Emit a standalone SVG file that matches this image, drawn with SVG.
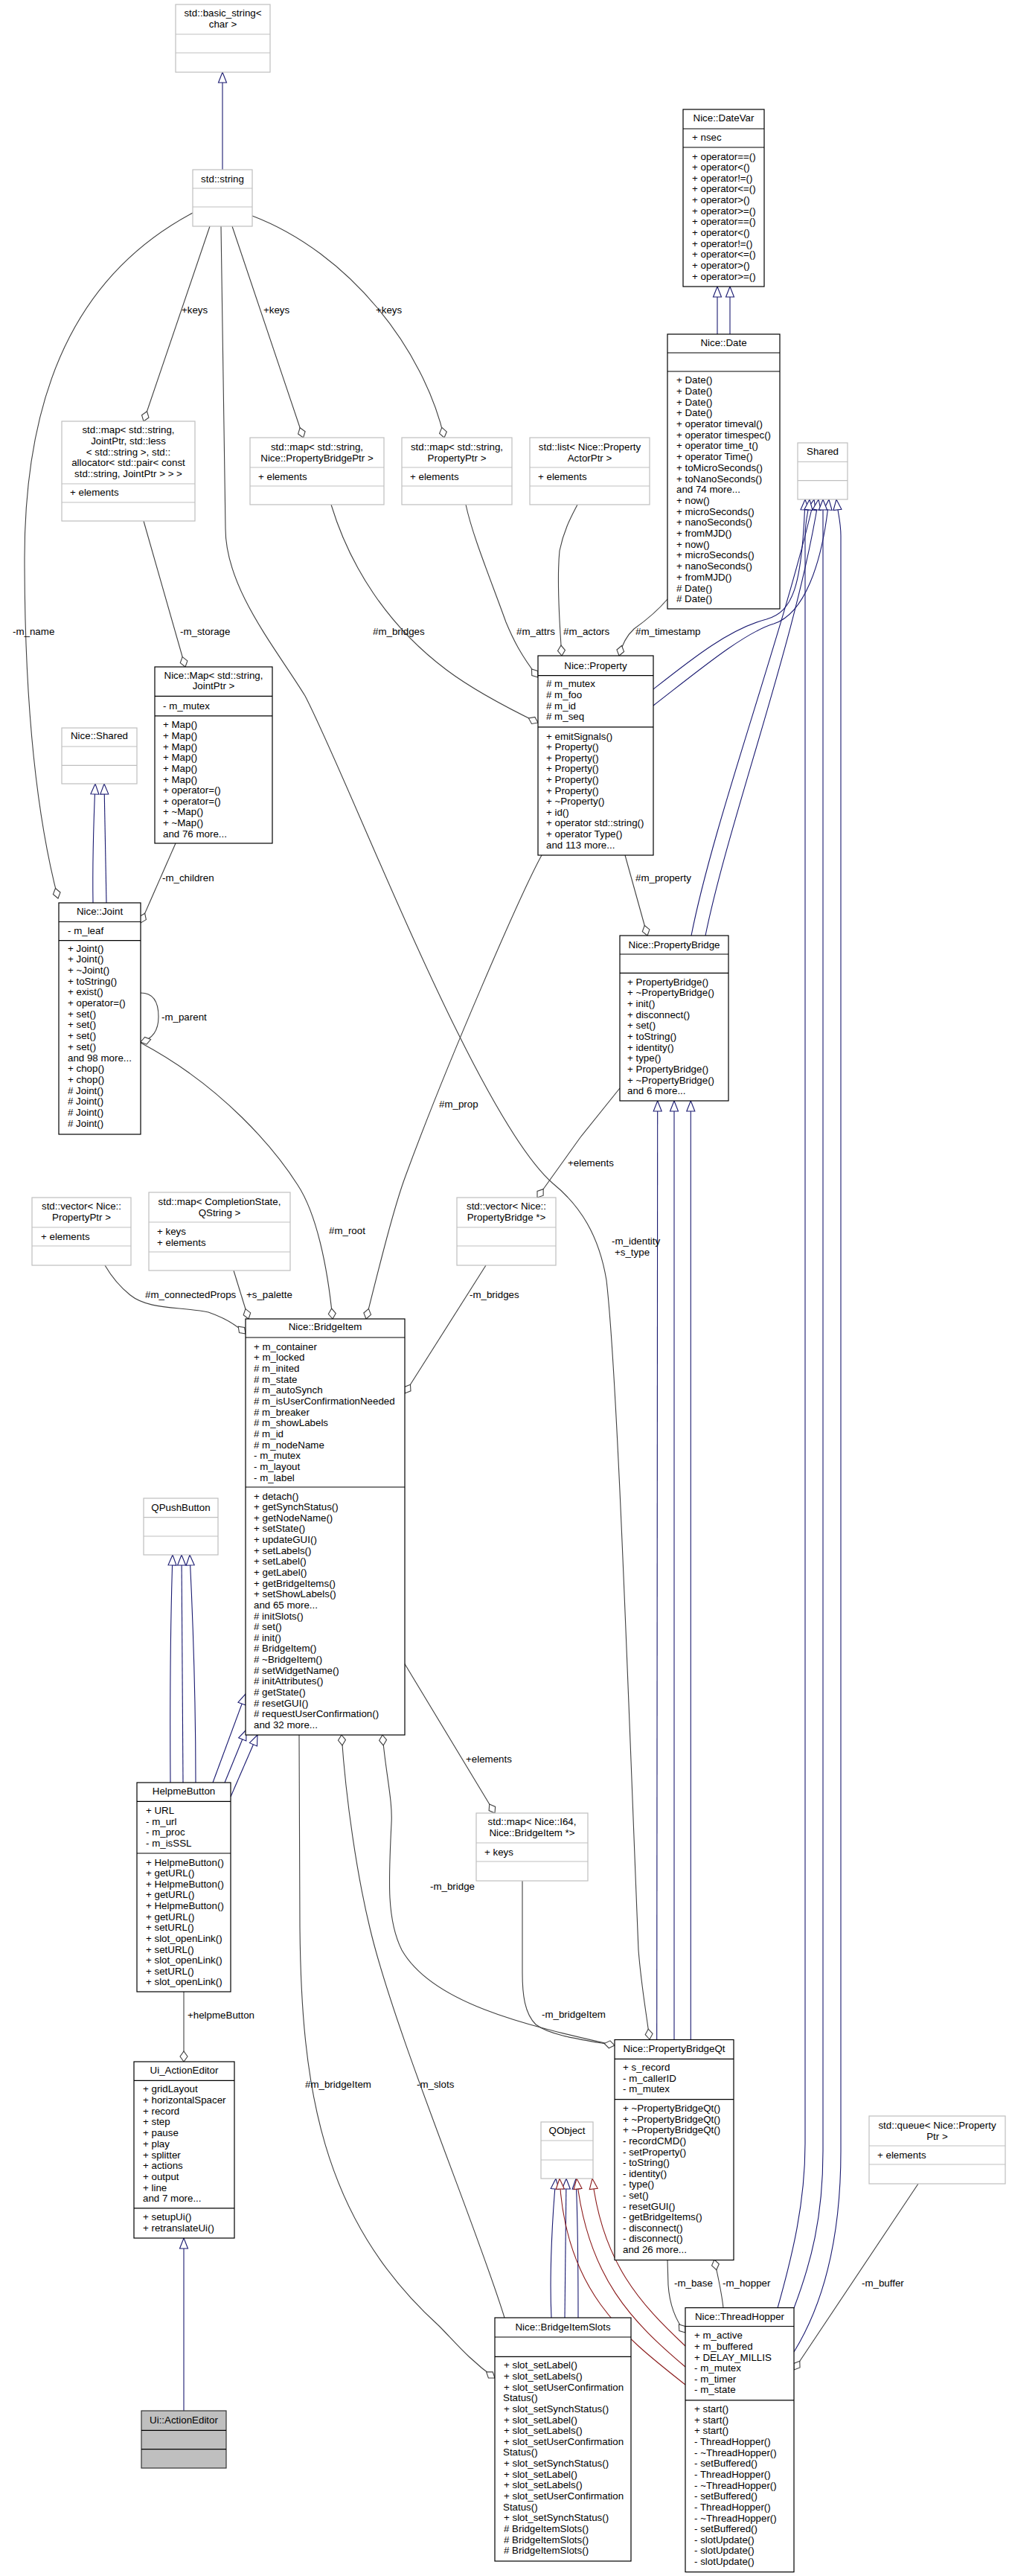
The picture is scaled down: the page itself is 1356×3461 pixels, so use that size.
<svg xmlns="http://www.w3.org/2000/svg" width="1356" height="3461" viewBox="0 0 1356 3461">
<style>
text{font-family:"Liberation Sans",Arial,sans-serif;font-size:13.33px;fill:#000}
.m{text-anchor:middle}
.doc{fill:#fff;stroke:#000;stroke-width:1.2}
.ext{fill:#fff;stroke:#bfbfbf;stroke-width:1.2}
.dl{stroke:#000;stroke-width:1.2}
.el{stroke:#bfbfbf;stroke-width:1.2}
.e{fill:none;stroke:#404040;stroke-width:1.1;marker-start:url(#dia)}
.ib{fill:none;stroke:#191970;stroke-width:1.1;marker-end:url(#tb)}
.ir{fill:none;stroke:#8b1a1a;stroke-width:1.1;marker-end:url(#tr)}
</style>
<defs>
<marker id="dia" viewBox="-1 -6 16 12" refX="0" refY="0" markerWidth="16" markerHeight="12" orient="auto" markerUnits="userSpaceOnUse"><path d="M0,0 L7,-5 L14,0 L7,5 Z" fill="#fff" stroke="#404040" stroke-width="1.1"/></marker>
<marker id="tb" viewBox="-1 -7 16 14" refX="14" refY="0" markerWidth="16" markerHeight="14" orient="auto" markerUnits="userSpaceOnUse"><path d="M0,-5.5 L14,0 L0,5.5 Z" fill="#fff" stroke="#191970" stroke-width="1.1"/></marker>
<marker id="tr" viewBox="-1 -7 16 14" refX="14" refY="0" markerWidth="16" markerHeight="14" orient="auto" markerUnits="userSpaceOnUse"><path d="M0,-5.5 L14,0 L0,5.5 Z" fill="#fff" stroke="#8b1a1a" stroke-width="1.1"/></marker>
</defs>
<rect width="1356" height="3461" fill="#fff"/>

<g id="connectors">
<!-- inheritance -->
<path class="ib" d="M299,228 L299,97"/>
<path class="ib" d="M964,449 L964,385"/>
<path class="ib" d="M981,449 L981,385"/>
<path class="ib" d="M125,1213 C124,1150 126,1100 128,1053"/>
<path class="ib" d="M143,1213 C142,1150 141,1100 140,1053"/>
<path class="ib" d="M878,926 C930,885 980,845 1030,832 C1065,822 1078,790 1082,671"/>
<path class="ib" d="M878,948 C940,900 1000,850 1040,838 C1080,825 1105,760 1114,671"/>
<path class="ib" d="M929,1257 C960,1100 1050,860 1094,671"/>
<path class="ib" d="M948,1257 C980,1100 1070,860 1100,671"/>
<path class="ib" d="M1045,3101 C1065,3030 1082,2960 1082,2880 L1082,720 C1082,700 1086,690 1088,671"/>
<path class="ib" d="M1067,3101 C1090,3040 1106,2980 1106,2890 L1106,671"/>
<path class="ib" d="M1067,3160 C1110,3090 1130,3000 1130,2890 L1130,720 C1130,700 1126,690 1124,671"/>
<path class="ib" d="M882.7,2740.5 L883.7,1479"/>
<path class="ib" d="M906,2740.5 L906,1479"/>
<path class="ib" d="M928.3,2740.5 L928.3,1479"/>
<path class="ib" d="M229,2395 C228,2250 230,2150 232,2089"/>
<path class="ib" d="M246,2395 L244,2089"/>
<path class="ib" d="M263,2395 C263,2250 258,2150 255,2089"/>
<path class="ib" d="M286,2395 L330,2276"/>
<path class="ib" d="M302,2395 L331,2324"/>
<path class="ib" d="M310,2414 L346,2331"/>
<path class="ib" d="M247,3239 L247,3007"/>
<path class="ib" d="M741,3114 C738,3050 743,2970 747,2927"/>
<path class="ib" d="M759,3114 L761,2927"/>
<path class="ib" d="M777,3114 C777,3050 776,2970 774,2927"/>
<path class="ir" d="M921,3152 C860,3095 810,3040 796,2927"/>
<path class="ir" d="M921,3180 C850,3120 790,3060 775,2927"/>
<path class="ir" d="M921,3204 C840,3140 760,3080 752,2927"/>

<!-- collaboration -->
<path class="e" d="M193,566 L282,304"/>
<text x="244" y="420.5">+keys</text>
<path class="e" d="M407.6,588 L312,304"/>
<text x="354" y="420.5">+keys</text>
<path class="e" d="M597,588 C570,470 470,340 339,290"/>
<text x="505" y="420.5">+keys</text>
<path class="e" d="M78,1207 C50,1100 33,950 33,750 C33,500 120,360 259,286"/>
<text x="17" y="852.5">-m_name</text>
<path class="e" d="M249,896 L193,700"/>
<text x="242" y="852.6">-m_storage</text>
<path class="e" d="M189,1240 L236,1133"/>
<text x="218" y="1183.8">-m_children</text>
<path class="e" d="M189,1400 C205,1396 213,1385 213,1366 C213,1345 205,1334 189,1334"/>
<text x="217" y="1370.5">-m_parent</text>
<path class="e" d="M447,1772 C440,1700 425,1630 400,1592 C370,1545 300,1460 189,1401"/>
<text x="442" y="1657.8">#m_root</text>
<path class="e" d="M723,971 C690,955 640,930 600,900 C520,840 470,760 445,678"/>
<text x="501" y="853.4">#m_bridges</text>
<path class="e" d="M723,910 C700,880 690,860 680,836 C660,780 635,720 626,678"/>
<text x="694" y="853.4">#m_attrs</text>
<path class="e" d="M755,881 C752,840 748,780 752,740 C758,710 770,690 776,678"/>
<text x="757" y="853.4">#m_actors</text>
<path class="e" d="M832,881 Q838,858 852,845 Q880,825 897,805"/>
<text x="854" y="853.4">#m_timestamp</text>
<path class="e" d="M870,1257 L840,1149"/>
<text x="854" y="1184">#m_property</text>
<path class="e" d="M492,1772 C510,1700 530,1620 545,1580 C600,1430 700,1200 728,1149"/>
<text x="590" y="1488">#m_prop</text>
<path class="e" d="M722,1609 L780,1528 L833,1462"/>
<text x="763" y="1566.5">+elements</text>
<path class="e" d="M330,1792 C318,1780 300,1770 280,1763 C240,1755 200,1760 175,1740 C160,1728 148,1712 141,1700"/>
<text x="195" y="1743.5">#m_connectedProps</text>
<path class="e" d="M334,1772 L314,1707"/>
<text x="331" y="1743.5">+s_palette</text>
<path class="e" d="M544,1872 L653,1700"/>
<text x="631" y="1743.5">-m_bridges</text>
<path class="e" d="M873,2740 C868,2700 862,2670 858,2620 C845,2300 830,1850 815,1720 C805,1660 780,1620 743,1590 C640,1500 470,1050 410,935 C370,870 303,790 303,710 L297,304"/>
<text x="822" y="1672">-m_identity</text>
<text x="826" y="1687">+s_type</text>
<path class="e" d="M459,2331 C465,2420 480,2520 497,2590 C530,2730 640,2990 678,3114"/>
<text x="560" y="2805">-m_slots</text>
<path class="e" d="M665,3195 C630,3170 610,3145 590,3125 C430,2980 405,2800 403,2590 L402,2331"/>
<text x="410" y="2805">#m_bridgeItem</text>
<path class="e" d="M514,2331 C518,2380 528,2420 526,2450 C522,2530 520,2580 540,2620 C580,2690 700,2720 826,2748"/>
<text x="578" y="2539">-m_bridge</text>
<path class="e" d="M826,2748 C780,2740 740,2735 720,2720 C705,2705 702,2680 702,2650 L702,2527"/>
<text x="728" y="2711.4">-m_bridgeItem</text>
<path class="e" d="M665,2436 L543,2234"/>
<text x="626" y="2367.5">+elements</text>
<path class="e" d="M247,2770 L247,2676"/>
<text x="252" y="2712.4">+helpmeButton</text>
<path class="e" d="M921,3134 C910,3120 900,3100 898,3070 L897,3036"/>
<text x="906" y="3072">-m_base</text>
<path class="e" d="M960,3036 C965,3060 970,3080 972,3101"/>
<text x="971" y="3072">-m_hopper</text>
<path class="e" d="M1067,3184 L1234,2934"/>
<text x="1158" y="3072">-m_buffer</text>
</g>

<g id="basic_string">
<rect class="ext" x="236" y="6" width="127" height="91"/>
<line class="el" x1="236" y1="46" x2="363" y2="46"/><line class="el" x1="236" y1="71" x2="363" y2="71"/>
<text class="m" x="299.5" y="22">std::basic_string&lt;</text><text class="m" x="299.5" y="37">char &gt;</text>
</g>
<g id="std_string">
<rect class="ext" x="259" y="228" width="80" height="76"/>
<line class="el" x1="259" y1="253" x2="339" y2="253"/><line class="el" x1="259" y1="278" x2="339" y2="278"/>
<text class="m" x="299" y="245">std::string</text>
</g>
<g id="map_jointptr">
<rect class="ext" x="83" y="566" width="179" height="134"/>
<line class="el" x1="83" y1="650" x2="262" y2="650"/><line class="el" x1="83" y1="675" x2="262" y2="675"/>
<text class="m" x="172.5" y="582">std::map&lt; std::string,</text>
<text class="m" x="172.5" y="597"> JointPtr, std::less</text>
<text class="m" x="172.5" y="611.5">&lt; std::string &gt;, std::</text>
<text class="m" x="172.5" y="626">allocator&lt; std::pair&lt; const</text>
<text class="m" x="172.5" y="641"> std::string, JointPtr &gt; &gt; &gt;</text>
<text x="94" y="666">+ elements</text>
</g>
<g id="map_pbptr">
<rect class="ext" x="336" y="588" width="180" height="90"/>
<line class="el" x1="336" y1="628" x2="516" y2="628"/><line class="el" x1="336" y1="653" x2="516" y2="653"/>
<text class="m" x="426" y="604.5">std::map&lt; std::string,</text>
<text class="m" x="426" y="619.5"> Nice::PropertyBridgePtr &gt;</text>
<text x="347" y="644.5">+ elements</text>
</g>
<g id="map_propptr">
<rect class="ext" x="540" y="588" width="148" height="90"/>
<line class="el" x1="540" y1="628" x2="688" y2="628"/><line class="el" x1="540" y1="653" x2="688" y2="653"/>
<text class="m" x="614" y="604.5">std::map&lt; std::string,</text>
<text class="m" x="614" y="619.5">PropertyPtr &gt;</text>
<text x="551" y="644.5">+ elements</text>
</g>
<g id="list_actorptr">
<rect class="ext" x="712" y="588" width="161" height="90"/>
<line class="el" x1="712" y1="628" x2="873" y2="628"/><line class="el" x1="712" y1="653" x2="873" y2="653"/>
<text class="m" x="792.5" y="604.5">std::list&lt; Nice::Property</text>
<text class="m" x="792.5" y="619.5">ActorPtr &gt;</text>
<text x="723" y="644.5">+ elements</text>
</g>
<g id="datevar">
<rect class="doc" x="918" y="147" width="109" height="238"/>
<line class="dl" x1="918" y1="173" x2="1027" y2="173"/><line class="dl" x1="918" y1="198" x2="1027" y2="198"/>
<text class="m" x="972.5" y="163">Nice::DateVar</text>
<text x="930" y="189">+ nsec</text>
<text x="930" y="214.5"><tspan x="930">+ operator==()</tspan><tspan x="930" dy="14.65">+ operator&lt;()</tspan><tspan x="930" dy="14.65">+ operator!=()</tspan><tspan x="930" dy="14.65">+ operator&lt;=()</tspan><tspan x="930" dy="14.65">+ operator&gt;()</tspan><tspan x="930" dy="14.65">+ operator&gt;=()</tspan><tspan x="930" dy="14.65">+ operator==()</tspan><tspan x="930" dy="14.65">+ operator&lt;()</tspan><tspan x="930" dy="14.65">+ operator!=()</tspan><tspan x="930" dy="14.65">+ operator&lt;=()</tspan><tspan x="930" dy="14.65">+ operator&gt;()</tspan><tspan x="930" dy="14.65">+ operator&gt;=()</tspan></text>
</g>
<g id="date">
<rect class="doc" x="897" y="449" width="151" height="369"/>
<line class="dl" x1="897" y1="474" x2="1048" y2="474"/><line class="dl" x1="897" y1="499" x2="1048" y2="499"/>
<text class="m" x="972.5" y="465">Nice::Date</text>
<text x="909" y="515.2"><tspan x="909">+ Date()</tspan><tspan x="909" dy="14.7">+ Date()</tspan><tspan x="909" dy="14.7">+ Date()</tspan><tspan x="909" dy="14.7">+ Date()</tspan><tspan x="909" dy="14.7">+ operator timeval()</tspan><tspan x="909" dy="14.7">+ operator timespec()</tspan><tspan x="909" dy="14.7">+ operator time_t()</tspan><tspan x="909" dy="14.7">+ operator Time()</tspan><tspan x="909" dy="14.7">+ toMicroSeconds()</tspan><tspan x="909" dy="14.7">+ toNanoSeconds()</tspan><tspan x="909" dy="14.7">and 74 more...</tspan><tspan x="909" dy="14.7">+ now()</tspan><tspan x="909" dy="14.7">+ microSeconds()</tspan><tspan x="909" dy="14.7">+ nanoSeconds()</tspan><tspan x="909" dy="14.7">+ fromMJD()</tspan><tspan x="909" dy="14.7">+ now()</tspan><tspan x="909" dy="14.7">+ microSeconds()</tspan><tspan x="909" dy="14.7">+ nanoSeconds()</tspan><tspan x="909" dy="14.7">+ fromMJD()</tspan><tspan x="909" dy="14.7"># Date()</tspan><tspan x="909" dy="14.7"># Date()</tspan></text>
</g>
<g id="shared">
<rect class="ext" x="1072" y="595" width="67" height="76"/>
<line class="el" x1="1072" y1="620.5" x2="1139" y2="620.5"/><line class="el" x1="1072" y1="645.7" x2="1139" y2="645.7"/>
<text class="m" x="1105.5" y="611">Shared</text>
</g>
<g id="nice_map">
<rect class="doc" x="208" y="896" width="158" height="237"/>
<line class="dl" x1="208" y1="935.4" x2="366" y2="935.4"/><line class="dl" x1="208" y1="961.8" x2="366" y2="961.8"/>
<text class="m" x="287" y="912.3">Nice::Map&lt; std::string,</text>
<text class="m" x="287" y="926">JointPtr &gt;</text>
<text x="219" y="953">- m_mutex</text>
<text x="219" y="978.3"><tspan x="219">+ Map()</tspan><tspan x="219" dy="14.64">+ Map()</tspan><tspan x="219" dy="14.64">+ Map()</tspan><tspan x="219" dy="14.64">+ Map()</tspan><tspan x="219" dy="14.64">+ Map()</tspan><tspan x="219" dy="14.64">+ Map()</tspan><tspan x="219" dy="14.64">+ operator=()</tspan><tspan x="219" dy="14.64">+ operator=()</tspan><tspan x="219" dy="14.64">+ ~Map()</tspan><tspan x="219" dy="14.64">+ ~Map()</tspan><tspan x="219" dy="14.64">and 76 more...</tspan></text>
</g>
<g id="nice_shared">
<rect class="ext" x="83" y="978" width="101" height="75"/>
<line class="el" x1="83" y1="1003" x2="184" y2="1003"/><line class="el" x1="83" y1="1028.4" x2="184" y2="1028.4"/>
<text class="m" x="133.5" y="993">Nice::Shared</text>
</g>
<g id="joint">
<rect class="doc" x="79" y="1213" width="110" height="311"/>
<line class="dl" x1="79" y1="1238.5" x2="189" y2="1238.5"/><line class="dl" x1="79" y1="1263.7" x2="189" y2="1263.7"/>
<text class="m" x="134" y="1228.5">Nice::Joint</text>
<text x="91" y="1254.5">- m_leaf</text>
<text x="91" y="1278.5"><tspan x="91">+ Joint()</tspan><tspan x="91" dy="14.7">+ Joint()</tspan><tspan x="91" dy="14.7">+ ~Joint()</tspan><tspan x="91" dy="14.7">+ toString()</tspan><tspan x="91" dy="14.7">+ exist()</tspan><tspan x="91" dy="14.7">+ operator=()</tspan><tspan x="91" dy="14.7">+ set()</tspan><tspan x="91" dy="14.7">+ set()</tspan><tspan x="91" dy="14.7">+ set()</tspan><tspan x="91" dy="14.7">+ set()</tspan><tspan x="91" dy="14.7">and 98 more...</tspan><tspan x="91" dy="14.7">+ chop()</tspan><tspan x="91" dy="14.7">+ chop()</tspan><tspan x="91" dy="14.7"># Joint()</tspan><tspan x="91" dy="14.7"># Joint()</tspan><tspan x="91" dy="14.7"># Joint()</tspan><tspan x="91" dy="14.7"># Joint()</tspan></text>
</g>
<g id="property">
<rect class="doc" x="723" y="881" width="155" height="268"/>
<line class="dl" x1="723" y1="907.6" x2="878" y2="907.6"/><line class="dl" x1="723" y1="976.9" x2="878" y2="976.9"/>
<text class="m" x="800.5" y="899">Nice::Property</text>
<text x="734" y="923.2"><tspan x="734"># m_mutex</tspan><tspan x="734" dy="14.7"># m_foo</tspan><tspan x="734" dy="14.7"># m_id</tspan><tspan x="734" dy="14.7"># m_seq</tspan></text>
<text x="734" y="993.5"><tspan x="734">+ emitSignals()</tspan><tspan x="734" dy="14.6">+ Property()</tspan><tspan x="734" dy="14.6">+ Property()</tspan><tspan x="734" dy="14.6">+ Property()</tspan><tspan x="734" dy="14.6">+ Property()</tspan><tspan x="734" dy="14.6">+ Property()</tspan><tspan x="734" dy="14.6">+ ~Property()</tspan><tspan x="734" dy="14.6">+ id()</tspan><tspan x="734" dy="14.6">+ operator std::string()</tspan><tspan x="734" dy="14.6">+ operator Type()</tspan><tspan x="734" dy="14.6">and 113 more...</tspan></text>
</g>
<g id="propertybridge">
<rect class="doc" x="833" y="1257" width="146" height="222"/>
<line class="dl" x1="833" y1="1282" x2="979" y2="1282"/><line class="dl" x1="833" y1="1307.3" x2="979" y2="1307.3"/>
<text class="m" x="906" y="1273.5">Nice::PropertyBridge</text>
<text x="843" y="1323.8"><tspan x="843">+ PropertyBridge()</tspan><tspan x="843" dy="14.64">+ ~PropertyBridge()</tspan><tspan x="843" dy="14.64">+ init()</tspan><tspan x="843" dy="14.64">+ disconnect()</tspan><tspan x="843" dy="14.64">+ set()</tspan><tspan x="843" dy="14.64">+ toString()</tspan><tspan x="843" dy="14.64">+ identity()</tspan><tspan x="843" dy="14.64">+ type()</tspan><tspan x="843" dy="14.64">+ PropertyBridge()</tspan><tspan x="843" dy="14.64">+ ~PropertyBridge()</tspan><tspan x="843" dy="14.64">and 6 more...</tspan></text>
</g>
<g id="vector_propptr">
<rect class="ext" x="43" y="1609" width="133" height="91"/>
<line class="el" x1="43" y1="1649" x2="176" y2="1649"/><line class="el" x1="43" y1="1674" x2="176" y2="1674"/>
<text class="m" x="109.5" y="1625">std::vector&lt; Nice::</text>
<text class="m" x="109.5" y="1640">PropertyPtr &gt;</text>
<text x="55" y="1665.5">+ elements</text>
</g>
<g id="map_completionstate">
<rect class="ext" x="200" y="1602" width="190" height="105"/>
<line class="el" x1="200" y1="1642" x2="390" y2="1642"/><line class="el" x1="200" y1="1682" x2="390" y2="1682"/>
<text class="m" x="295" y="1618.5">std::map&lt; CompletionState,</text>
<text class="m" x="295" y="1633.5">QString &gt;</text>
<text x="211" y="1658.5">+ keys</text>
<text x="211" y="1673.5">+ elements</text>
</g>
<g id="vector_pb">
<rect class="ext" x="614" y="1609" width="133" height="91"/>
<line class="el" x1="614" y1="1649" x2="747" y2="1649"/><line class="el" x1="614" y1="1674" x2="747" y2="1674"/>
<text class="m" x="680.5" y="1625">std::vector&lt; Nice::</text>
<text class="m" x="680.5" y="1640">PropertyBridge *&gt;</text>
</g>
<g id="bridgeitem">
<rect class="doc" x="330" y="1772" width="214" height="559"/>
<line class="dl" x1="330" y1="1797" x2="544" y2="1797"/><line class="dl" x1="330" y1="1998" x2="544" y2="1998"/>
<text class="m" x="437" y="1787">Nice::BridgeItem</text>
<text x="341" y="1813.5"><tspan x="341">+ m_container</tspan><tspan x="341" dy="14.67">+ m_locked</tspan><tspan x="341" dy="14.67"># m_inited</tspan><tspan x="341" dy="14.67"># m_state</tspan><tspan x="341" dy="14.67"># m_autoSynch</tspan><tspan x="341" dy="14.67"># m_isUserConfirmationNeeded</tspan><tspan x="341" dy="14.67"># m_breaker</tspan><tspan x="341" dy="14.67"># m_showLabels</tspan><tspan x="341" dy="14.67"># m_id</tspan><tspan x="341" dy="14.67"># m_nodeName</tspan><tspan x="341" dy="14.67">- m_mutex</tspan><tspan x="341" dy="14.67">- m_layout</tspan><tspan x="341" dy="14.67">- m_label</tspan></text>
<text x="341" y="2014.5"><tspan x="341">+ detach()</tspan><tspan x="341" dy="14.64">+ getSynchStatus()</tspan><tspan x="341" dy="14.64">+ getNodeName()</tspan><tspan x="341" dy="14.64">+ setState()</tspan><tspan x="341" dy="14.64">+ updateGUI()</tspan><tspan x="341" dy="14.64">+ setLabels()</tspan><tspan x="341" dy="14.64">+ setLabel()</tspan><tspan x="341" dy="14.64">+ getLabel()</tspan><tspan x="341" dy="14.64">+ getBridgeItems()</tspan><tspan x="341" dy="14.64">+ setShowLabels()</tspan><tspan x="341" dy="14.64">and 65 more...</tspan><tspan x="341" dy="14.64"># initSlots()</tspan><tspan x="341" dy="14.64"># set()</tspan><tspan x="341" dy="14.64"># init()</tspan><tspan x="341" dy="14.64"># BridgeItem()</tspan><tspan x="341" dy="14.64"># ~BridgeItem()</tspan><tspan x="341" dy="14.64"># setWidgetName()</tspan><tspan x="341" dy="14.64"># initAttributes()</tspan><tspan x="341" dy="14.64"># getState()</tspan><tspan x="341" dy="14.64"># resetGUI()</tspan><tspan x="341" dy="14.64"># requestUserConfirmation()</tspan><tspan x="341" dy="14.64">and 32 more...</tspan></text>
</g>
<g id="qpushbutton">
<rect class="ext" x="193" y="2013" width="100" height="76"/>
<line class="el" x1="193" y1="2038.7" x2="293" y2="2038.7"/><line class="el" x1="193" y1="2064" x2="293" y2="2064"/>
<text class="m" x="243" y="2029.5">QPushButton</text>
</g>
<g id="helpmebutton">
<rect class="doc" x="184" y="2395" width="126" height="281"/>
<line class="dl" x1="184" y1="2420.4" x2="310" y2="2420.4"/><line class="dl" x1="184" y1="2490" x2="310" y2="2490"/>
<text class="m" x="247" y="2411.3">HelpmeButton</text>
<text x="196" y="2437.4"><tspan x="196">+ URL</tspan><tspan x="196" dy="14.5">- m_url</tspan><tspan x="196" dy="14.5">- m_proc</tspan><tspan x="196" dy="14.5">- m_isSSL</tspan></text>
<text x="196" y="2506.6"><tspan x="196">+ HelpmeButton()</tspan><tspan x="196" dy="14.62">+ getURL()</tspan><tspan x="196" dy="14.62">+ HelpmeButton()</tspan><tspan x="196" dy="14.62">+ getURL()</tspan><tspan x="196" dy="14.62">+ HelpmeButton()</tspan><tspan x="196" dy="14.62">+ getURL()</tspan><tspan x="196" dy="14.62">+ setURL()</tspan><tspan x="196" dy="14.62">+ slot_openLink()</tspan><tspan x="196" dy="14.62">+ setURL()</tspan><tspan x="196" dy="14.62">+ slot_openLink()</tspan><tspan x="196" dy="14.62">+ setURL()</tspan><tspan x="196" dy="14.62">+ slot_openLink()</tspan></text>
</g>
<g id="map_i64">
<rect class="ext" x="640" y="2436" width="150" height="91"/>
<line class="el" x1="640" y1="2476" x2="790" y2="2476"/><line class="el" x1="640" y1="2501" x2="790" y2="2501"/>
<text class="m" x="715" y="2452">std::map&lt; Nice::I64,</text>
<text class="m" x="715" y="2467"> Nice::BridgeItem *&gt;</text>
<text x="651" y="2492.5">+ keys</text>
</g>
<g id="ui_actioneditor">
<rect class="doc" x="180" y="2770" width="135" height="237"/>
<line class="dl" x1="180" y1="2795.4" x2="315" y2="2795.4"/><line class="dl" x1="180" y1="2966.8" x2="315" y2="2966.8"/>
<text class="m" x="247.5" y="2786.3">Ui_ActionEditor</text>
<text x="192" y="2811.3"><tspan x="192">+ gridLayout</tspan><tspan x="192" dy="14.7">+ horizontalSpacer</tspan><tspan x="192" dy="14.7">+ record</tspan><tspan x="192" dy="14.7">+ step</tspan><tspan x="192" dy="14.7">+ pause</tspan><tspan x="192" dy="14.7">+ play</tspan><tspan x="192" dy="14.7">+ splitter</tspan><tspan x="192" dy="14.7">+ actions</tspan><tspan x="192" dy="14.7">+ output</tspan><tspan x="192" dy="14.7">+ line</tspan><tspan x="192" dy="14.7">and 7 more...</tspan></text>
<text x="192" y="2983.4"><tspan x="192">+ setupUi()</tspan><tspan x="192" dy="14.7">+ retranslateUi()</tspan></text>
</g>
<g id="ui_ns_actioneditor">
<rect x="190" y="3239" width="114" height="77" fill="#bfbfbf" stroke="#333" stroke-width="1.2"/>
<line class="dl" x1="190" y1="3265.3" x2="304" y2="3265.3"/><line class="dl" x1="190" y1="3290.7" x2="304" y2="3290.7"/>
<text class="m" x="247" y="3256">Ui::ActionEditor</text>
</g>
<g id="propertybridgeqt">
<rect class="doc" x="826" y="2740.5" width="160" height="296"/>
<line class="dl" x1="826" y1="2766.4" x2="986" y2="2766.4"/><line class="dl" x1="826" y1="2820.7" x2="986" y2="2820.7"/>
<text class="m" x="906" y="2757">Nice::PropertyBridgeQt</text>
<text x="837" y="2782.3"><tspan x="837">+ s_record</tspan><tspan x="837" dy="14.5">- m_callerID</tspan><tspan x="837" dy="14.5">- m_mutex</tspan></text>
<text x="837" y="2837.1"><tspan x="837">+ ~PropertyBridgeQt()</tspan><tspan x="837" dy="14.6">+ ~PropertyBridgeQt()</tspan><tspan x="837" dy="14.6">+ ~PropertyBridgeQt()</tspan><tspan x="837" dy="14.6">- recordCMD()</tspan><tspan x="837" dy="14.6">- setProperty()</tspan><tspan x="837" dy="14.6">- toString()</tspan><tspan x="837" dy="14.6">- identity()</tspan><tspan x="837" dy="14.6">- type()</tspan><tspan x="837" dy="14.6">- set()</tspan><tspan x="837" dy="14.6">- resetGUI()</tspan><tspan x="837" dy="14.6">- getBridgeItems()</tspan><tspan x="837" dy="14.6">- disconnect()</tspan><tspan x="837" dy="14.6">- disconnect()</tspan><tspan x="837" dy="14.6">and 26 more...</tspan></text>
</g>
<g id="qobject">
<rect class="ext" x="727" y="2851" width="70" height="76"/>
<line class="el" x1="727" y1="2876" x2="797" y2="2876"/><line class="el" x1="727" y1="2902" x2="797" y2="2902"/>
<text class="m" x="762" y="2867">QObject</text>
</g>
<g id="bridgeitemslots">
<rect class="doc" x="665" y="3114" width="183" height="327"/>
<line class="dl" x1="665" y1="3140" x2="848" y2="3140"/><line class="dl" x1="665" y1="3166.3" x2="848" y2="3166.3"/>
<text class="m" x="756.5" y="3130.5">Nice::BridgeItemSlots</text>
<text x="677" y="3182.2"><tspan x="677">+ slot_setLabel()</tspan><tspan x="677" dy="14.66">+ slot_setLabels()</tspan><tspan x="677" dy="14.66">+ slot_setUserConfirmation</tspan><tspan x="676" dy="14.66">Status()</tspan><tspan x="677" dy="14.66">+ slot_setSynchStatus()</tspan><tspan x="677" dy="14.66">+ slot_setLabel()</tspan><tspan x="677" dy="14.66">+ slot_setLabels()</tspan><tspan x="677" dy="14.66">+ slot_setUserConfirmation</tspan><tspan x="676" dy="14.66">Status()</tspan><tspan x="677" dy="14.66">+ slot_setSynchStatus()</tspan><tspan x="677" dy="14.66">+ slot_setLabel()</tspan><tspan x="677" dy="14.66">+ slot_setLabels()</tspan><tspan x="677" dy="14.66">+ slot_setUserConfirmation</tspan><tspan x="676" dy="14.66">Status()</tspan><tspan x="677" dy="14.66">+ slot_setSynchStatus()</tspan><tspan x="677" dy="14.66"># BridgeItemSlots()</tspan><tspan x="677" dy="14.66"># BridgeItemSlots()</tspan><tspan x="677" dy="14.66"># BridgeItemSlots()</tspan></text>
</g>
<g id="threadhopper">
<rect class="doc" x="921" y="3100.6" width="146" height="355"/>
<line class="dl" x1="921" y1="3125.5" x2="1067" y2="3125.5"/><line class="dl" x1="921" y1="3224.8" x2="1067" y2="3224.8"/>
<text class="m" x="994" y="3117.3">Nice::ThreadHopper</text>
<text x="933" y="3142.3"><tspan x="933">+ m_active</tspan><tspan x="933" dy="14.6">+ m_buffered</tspan><tspan x="933" dy="14.6">+ DELAY_MILLIS</tspan><tspan x="933" dy="14.6">- m_mutex</tspan><tspan x="933" dy="14.6">- m_timer</tspan><tspan x="933" dy="14.6">- m_state</tspan></text>
<text x="933" y="3241.1"><tspan x="933">+ start()</tspan><tspan x="933" dy="14.64">+ start()</tspan><tspan x="933" dy="14.64">+ start()</tspan><tspan x="933" dy="14.64">- ThreadHopper()</tspan><tspan x="933" dy="14.64">- ~ThreadHopper()</tspan><tspan x="933" dy="14.64">- setBuffered()</tspan><tspan x="933" dy="14.64">- ThreadHopper()</tspan><tspan x="933" dy="14.64">- ~ThreadHopper()</tspan><tspan x="933" dy="14.64">- setBuffered()</tspan><tspan x="933" dy="14.64">- ThreadHopper()</tspan><tspan x="933" dy="14.64">- ~ThreadHopper()</tspan><tspan x="933" dy="14.64">- setBuffered()</tspan><tspan x="933" dy="14.64">- slotUpdate()</tspan><tspan x="933" dy="14.64">- slotUpdate()</tspan><tspan x="933" dy="14.64">- slotUpdate()</tspan></text>
</g>
<g id="queue_propertyptr">
<rect class="ext" x="1168" y="2843" width="183" height="91"/>
<line class="el" x1="1168" y1="2883" x2="1351" y2="2883"/><line class="el" x1="1168" y1="2908" x2="1351" y2="2908"/>
<text class="m" x="1259.5" y="2859.7">std::queue&lt; Nice::Property</text>
<text class="m" x="1259.5" y="2874.7">Ptr &gt;</text>
<text x="1179" y="2899.6">+ elements</text>
</g>
</svg>
